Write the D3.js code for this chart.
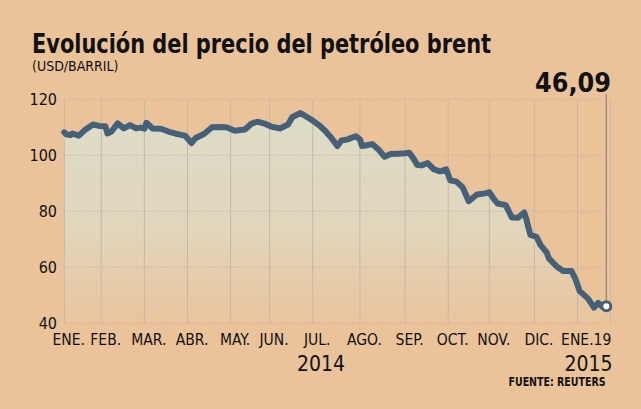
<!DOCTYPE html>
<html>
<head>
<meta charset="utf-8">
<script src="https://cdn.jsdelivr.net/npm/d3@7/dist/d3.min.js"></script>
<style>
  html, body { margin: 0; padding: 0; background: #EAC39B; }
  svg { display: block; }
  .narrow { font-family: "Liberation Sans Narrow", "Arial Narrow", "DejaVu Sans Condensed", sans-serif; }
</style>
</head>
<body>
<script>
// ---- Data (trading-day index since 2 Jan 2014, Brent USD/barrel) ----
const tradingDay = [0,1,3,4,7,10,14,17,20,21,23,26,29,32,35,37,39,40,43,47,51,54,57,59,62,64,68,72,75,79,83,88,91,94,98,101,105,109,111,115,119,121,124,127,130,133,135,138,142,144,145,148,150,153,156,159,165,168,170,172,174,177,180,183,186,188,191,194,197,201,205,207,209,211,215,218,221,224,225,227,230,232,235,236,240,243,247,249,251,255,258,260,262,264];
const price = [108.2,107.5,107.2,107.8,107.0,109.0,111.0,110.5,110.4,107.8,108.5,111.4,109.6,110.8,109.6,109.9,109.5,111.6,109.6,109.5,108.4,107.8,107.3,106.9,104.4,106.2,107.6,110.0,110.1,110.0,108.8,109.2,111.2,112.0,111.2,110.2,109.6,111.0,113.6,115.1,113.3,112.4,110.8,108.8,106.3,103.3,105.3,105.7,106.8,105.7,103.3,103.7,104.0,102.1,99.5,100.5,100.6,100.9,98.9,96.5,96.4,97.2,95.0,94.2,95.0,91.1,90.6,88.6,83.6,86.0,86.4,86.8,84.6,82.8,82.2,77.8,77.7,79.6,77.3,71.6,70.9,67.9,65.3,63.2,60.2,58.7,58.7,55.8,51.5,48.9,45.6,47.3,46.0,46.09];

const monthLabels = ["ENE.","FEB.","MAR.","ABR.","MAY.","JUN.","JUL.","AGO.","SEP.","OCT.","NOV.","DIC.","ENE.19"];
const monthStartDay = [0,18,39,60,81,100,121,144,166,187,207,229,250];
const yTicks = [40,60,80,100,120];
const yearLabels = ["2014","2015"];
const lastValueLabel = "46,09";

const title = "Evolución del precio del petróleo brent";
const subtitle = "(USD/BARRIL)";
const source = "FUENTE: REUTERS";

// ---- Layout ----
const W = 641, H = 409;
const plotLeft = 64.3, plotRight = 606.3, plotTop = 99.3, plotBottom = 323.3;

const svg = d3.select("body").append("svg").attr("width", W).attr("height", H);
svg.append("rect").attr("width", W).attr("height", H).attr("fill", "#EAC39B");

const data = tradingDay.map((d, i) => ({ d, v: price[i] }));
const lastDay = tradingDay[tradingDay.length - 1];

const x = d3.scaleLinear().domain([0, lastDay]).range([plotLeft, plotRight]);
const y = d3.scaleLinear().domain([40, 120]).range([plotBottom, plotTop]);

// gradient for area
const defs = svg.append("defs");
const grad = defs.append("linearGradient").attr("id", "ag")
  .attr("gradientUnits", "userSpaceOnUse")
  .attr("x1", 0).attr("x2", 0).attr("y1", y(116)).attr("y2", y(40));
grad.append("stop").attr("offset", "0%").attr("stop-color", "#DDDCC8");
grad.append("stop").attr("offset", "55%").attr("stop-color", "#E1D6BC");
grad.append("stop").attr("offset", "100%").attr("stop-color", "#EAC49D");

// area
svg.append("path").datum(data)
  .attr("fill", "url(#ag)")
  .attr("d", d3.area().x(p => x(p.d)).y0(y(40)).y1(p => y(p.v)));

// horizontal dotted grid
svg.append("g").selectAll("line").data(yTicks).join("line")
  .attr("x1", plotLeft).attr("x2", 603)
  .attr("y1", d => y(d)).attr("y2", d => y(d))
  .attr("stroke", "#BCAE9C").attr("stroke-width", 1)
  .attr("stroke-dasharray", "1,2");

// vertical month grid
svg.append("g").selectAll("line").data(monthStartDay).join("line")
  .attr("x1", d => x(d)).attr("x2", d => x(d))
  .attr("y1", y(120)).attr("y2", y(40))
  .attr("stroke", "#C6B8A5").attr("stroke-width", 1);

// right border
svg.append("line")
  .attr("x1", 610.5).attr("x2", 610.5).attr("y1", y(120)).attr("y2", y(40))
  .attr("stroke", "#C6B8A5").attr("stroke-width", 1);

// marker line from label to last point
svg.append("line")
  .attr("x1", x(lastDay)).attr("x2", x(lastDay))
  .attr("y1", 94).attr("y2", y(price[price.length - 1]))
  .attr("stroke", "#8E8274").attr("stroke-width", 1.2);

// price line
svg.append("path").datum(data)
  .attr("fill", "none")
  .attr("stroke", "#456078")
  .attr("stroke-width", 6)
  .attr("stroke-linejoin", "round")
  .attr("stroke-linecap", "round")
  .attr("d", d3.line().x(p => x(p.d)).y(p => y(p.v)));

// end marker
svg.append("circle")
  .attr("cx", x(lastDay)).attr("cy", y(price[price.length - 1]))
  .attr("r", 4.5).attr("fill", "#ffffff")
  .attr("stroke", "#456078").attr("stroke-width", 3);

// y labels
svg.append("g").selectAll("text").data(yTicks).join("text")
  .attr("class", "narrow")
  .attr("x", 57).attr("y", d => y(d))
  .attr("dy", "0.36em")
  .attr("text-anchor", "end")
  .attr("font-size", 16).attr("fill", "#111")
  .text(d => d);

// x labels
svg.append("g").selectAll("text").data(monthLabels).join("text")
  .attr("class", "narrow")
  .attr("x", (d, i) => i === monthLabels.length - 1 ? x(lastDay) + 5 : x(monthStartDay[i]) + 4.5)
  .attr("y", 344.5)
  .attr("text-anchor", (d, i) => i === monthLabels.length - 1 ? "end" : "middle")
  .attr("font-size", 15.5).attr("fill", "#111")
  .text(d => d);

// year labels
svg.append("text").attr("class", "narrow")
  .attr("x", (x(0) + x(monthStartDay[monthStartDay.length - 1])) / 2)
  .attr("y", 370.5).attr("text-anchor", "middle")
  .attr("font-size", 21).attr("fill", "#111").text(yearLabels[0]);
svg.append("text").attr("class", "narrow")
  .attr("x", 612.5).attr("y", 370.5).attr("text-anchor", "end")
  .attr("font-size", 21).attr("fill", "#111").text(yearLabels[1]);

// source
svg.append("text").attr("class", "narrow")
  .attr("x", 605.5).attr("y", 385.5).attr("text-anchor", "end")
  .attr("font-size", 11.5).attr("font-weight", "bold").attr("fill", "#111")
  .attr("textLength", 97).attr("lengthAdjust", "spacingAndGlyphs")
  .text(source);

// last value label
svg.append("text")
  .attr("x", 611).attr("y", 91.5).attr("text-anchor", "end")
  .attr("font-family", "DejaVu Sans, sans-serif")
  .attr("font-size", 26).attr("font-weight", "bold").attr("fill", "#111")
  .attr("textLength", 76).attr("lengthAdjust", "spacingAndGlyphs")
  .text(lastValueLabel);

// title & subtitle
svg.append("text").attr("class", "narrow")
  .attr("x", 32).attr("y", 53)
  .attr("font-size", 27).attr("font-weight", "bold").attr("fill", "#111")
  .attr("textLength", 459).attr("lengthAdjust", "spacingAndGlyphs")
  .text(title);
svg.append("text").attr("class", "narrow")
  .attr("x", 32).attr("y", 71)
  .attr("font-size", 14).attr("fill", "#111")
  .text(subtitle);
</script>
</body>
</html>
